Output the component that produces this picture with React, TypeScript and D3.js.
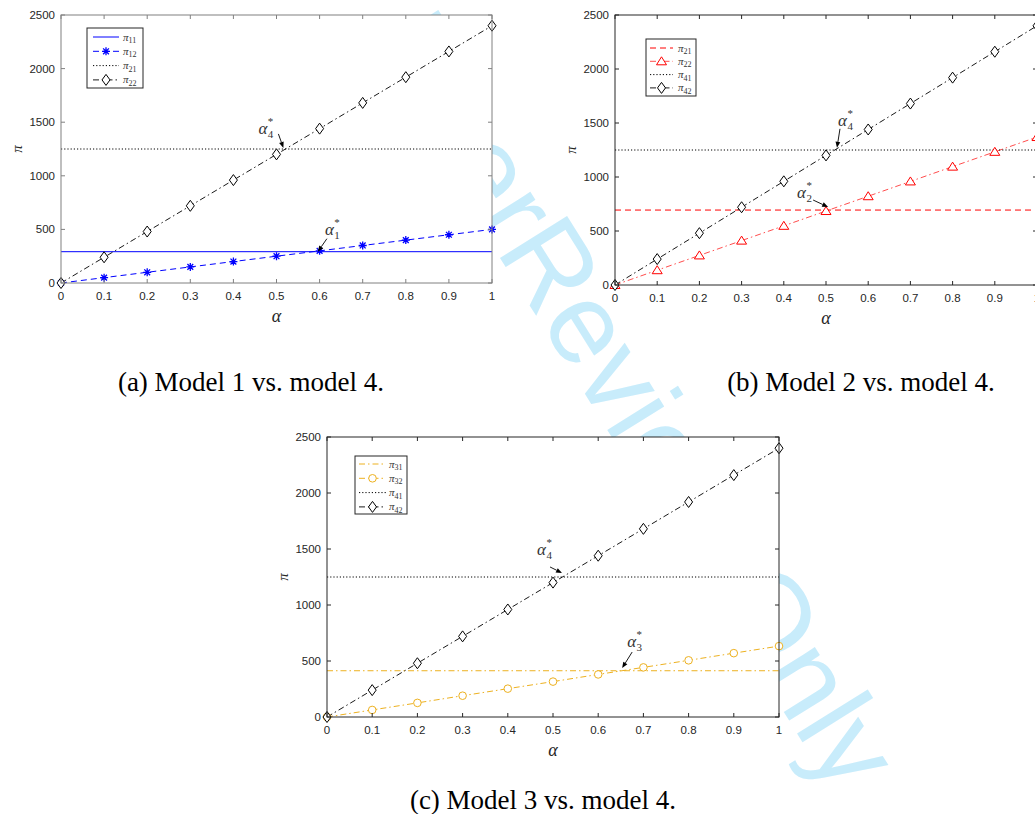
import React, { useEffect, useRef } from 'react';
import * as d3 from 'd3';

// shared axes
const alphaTicks = [0, 0.1, 0.2, 0.3, 0.4, 0.5, 0.6, 0.7, 0.8, 0.9, 1];
const alphaTickLabels = ['0', '0.1', '0.2', '0.3', '0.4', '0.5', '0.6', '0.7', '0.8', '0.9', '1'];
const piTicks = [0, 500, 1000, 1500, 2000, 2500];
const alphaEnds = [0, 1];

// (a) model 1 vs model 4
const pi11 = [292, 292];
const pi12 = [0, 50, 100, 150, 200, 250, 300, 350, 400, 450, 500];
const pi21a = [1250, 1250];
const pi22a = [0, 240, 480, 720, 960, 1200, 1440, 1680, 1920, 2160, 2400];

// (b) model 2 vs model 4
const pi21b = [694, 694];
const pi22b = [0, 137, 274, 411, 548, 685, 822, 959, 1096, 1233, 1370];
const pi41b = [1250, 1250];
const pi42b = [0, 240, 480, 720, 960, 1200, 1440, 1680, 1920, 2160, 2400];

// (c) model 3 vs model 4
const pi31 = [413, 413];
const pi32 = [0, 63, 126, 190, 253, 316, 380, 443, 506, 570, 633];
const pi41c = [1250, 1250];
const pi42c = [0, 240, 480, 720, 960, 1200, 1440, 1680, 1920, 2160, 2400];

type Marker = 'none' | 'diamond' | 'star' | 'triangle' | 'circle';

interface Series {
  sub: string;
  xs: number[];
  ys: number[];
  color: string;
  dash: string | null;
  width: number;
  marker: Marker;
}

interface Note {
  sub: string;
  tip: [number, number]; // data coords
  tail: [number, number]; // px offset from tip
  label: [number, number]; // px offset from tip
}

interface Panel {
  left: number;
  top: number;
  width: number;
  height: number;
  axisColor: string;
  series: Series[];
  legend: { x: number; y: number; w: number; h: number; rowGap: number; first: number; l0: number; l1: number; tx: number };
  notes: Note[];
  caption: string;
  captionX: number;
  captionY: number;
}

const BLUE = '#0000ff';
const RED = '#ff0000';
const ORANGE = '#edb120';
const DASH = '6,4';
const DOT = '1.2,2';
const DASHDOT = '6,3,1.5,3';

const panels: Panel[] = [
  {
    left: 61, top: 15, width: 431, height: 268, axisColor: '#808080',
    series: [
      { sub: '11', xs: alphaEnds, ys: pi11, color: BLUE, dash: null, width: 1, marker: 'none' },
      { sub: '12', xs: alphaTicks, ys: pi12, color: BLUE, dash: DASH, width: 1, marker: 'star' },
      { sub: '21', xs: alphaEnds, ys: pi21a, color: '#000', dash: DOT, width: 1, marker: 'none' },
      { sub: '22', xs: alphaTicks, ys: pi22a, color: '#000', dash: DASHDOT, width: 0.9, marker: 'diamond' },
    ],
    legend: { x: 87, y: 28, w: 56, h: 60, rowGap: 14.3, first: 9, l0: 6, l1: 32, tx: 36 },
    notes: [
      { sub: '4', tip: [0.516, 1260], tail: [-5, -14], label: [-25, -14] },
      { sub: '1', tip: [0.596, 292], tail: [9, -13], label: [7, -17] },
    ],
    caption: '(a) Model 1 vs. model 4.', captionX: 251, captionY: 391,
  },
  {
    left: 615, top: 15, width: 422, height: 270, axisColor: '#262626',
    series: [
      { sub: '21', xs: alphaEnds, ys: pi21b, color: RED, dash: DASH, width: 1, marker: 'none' },
      { sub: '22', xs: alphaTicks, ys: pi22b, color: RED, dash: DASHDOT, width: 0.7, marker: 'triangle' },
      { sub: '41', xs: alphaEnds, ys: pi41b, color: '#000', dash: DOT, width: 1, marker: 'none' },
      { sub: '42', xs: alphaTicks, ys: pi42b, color: '#000', dash: DASHDOT, width: 0.9, marker: 'diamond' },
    ],
    legend: { x: 646, y: 39, w: 50, h: 57, rowGap: 13.3, first: 9, l0: 4, l1: 27, tx: 32 },
    notes: [
      { sub: '4', tip: [0.526, 1270], tail: [3, -19], label: [1, -22] },
      { sub: '2', tip: [0.505, 722], tail: [-15, -7], label: [-31, -9] },
    ],
    caption: '(b) Model 2 vs. model 4.', captionX: 861, captionY: 391,
  },
  {
    left: 327, top: 437, width: 452, height: 280, axisColor: '#262626',
    series: [
      { sub: '31', xs: alphaEnds, ys: pi31, color: ORANGE, dash: DASHDOT, width: 1, marker: 'none' },
      { sub: '32', xs: alphaTicks, ys: pi32, color: ORANGE, dash: DASHDOT, width: 1, marker: 'circle' },
      { sub: '41', xs: alphaEnds, ys: pi41c, color: '#000', dash: DOT, width: 1, marker: 'none' },
      { sub: '42', xs: alphaTicks, ys: pi42c, color: '#000', dash: DASHDOT, width: 0.9, marker: 'diamond' },
    ],
    legend: { x: 355, y: 456, w: 52, h: 58, rowGap: 14.3, first: 8, l0: 4, l1: 31, tx: 34 },
    notes: [
      { sub: '4', tip: [0.52, 1286], tail: [-12, -6], label: [-25, -18] },
      { sub: '3', tip: [0.653, 437], tail: [10, -16], label: [5, -21] },
    ],
    caption: '(c) Model 3 vs. model 4.', captionX: 543, captionY: 809,
  },
];

const SANS = '"Liberation Sans", Arial, sans-serif';
const SERIF = '"Liberation Serif", "Times New Roman", serif';

function drawMarker(g: d3.Selection<SVGGElement, unknown, null, undefined>, type: Marker, x: number, y: number, color: string) {
  if (type === 'diamond') {
    g.append('path').attr('d', `M${x},${y - 5.5}L${x + 4},${y}L${x},${y + 5.5}L${x - 4},${y}Z`)
      .attr('fill', '#fff').attr('stroke', color).attr('stroke-width', 1);
  } else if (type === 'triangle') {
    g.append('path').attr('d', `M${x},${y - 4.5}L${x + 5},${y + 3.5}L${x - 5},${y + 3.5}Z`)
      .attr('fill', '#fff').attr('stroke', color).attr('stroke-width', 1);
  } else if (type === 'circle') {
    g.append('circle').attr('cx', x).attr('cy', y).attr('r', 3.8)
      .attr('fill', '#fff').attr('stroke', color).attr('stroke-width', 1);
  } else if (type === 'star') {
    const r = 4;
    const d = 2.9;
    g.append('path')
      .attr('d', `M${x - r},${y}L${x + r},${y}M${x},${y - r}L${x},${y + r}M${x - d},${y - d}L${x + d},${y + d}M${x - d},${y + d}L${x + d},${y - d}`)
      .attr('stroke', color).attr('stroke-width', 1.3).attr('fill', 'none');
  }
}

function piLabel(g: d3.Selection<SVGGElement, unknown, null, undefined>, x: number, y: number, sub: string) {
  const t = g.append('text').attr('x', x).attr('y', y + 3.5)
    .style('font-family', SERIF).style('font-style', 'italic').style('font-size', '11px').attr('fill', '#333');
  t.append('tspan').text('π');
  t.append('tspan').attr('dy', 2.5).style('font-size', '8px').style('font-style', 'normal').text(sub);
}

const App: React.FC = () => {
  const svgRef = useRef<SVGSVGElement>(null);

  useEffect(() => {
    if (!svgRef.current) return;
    const svg = d3.select(svgRef.current);
    svg.selectAll('*').remove();

    svg.append('rect').attr('width', 1035).attr('height', 814).attr('fill', '#fff');

    // watermark, sits under the plot boxes
    const wm = svg.append('g').attr('transform', 'translate(495,250) rotate(58)');
    wm.append('text').attr('x', 0).attr('y', 0).attr('text-anchor', 'end')
      .style('font-family', SANS).style('font-size', '115px').attr('fill', '#c8ecfb').text('For Peer ');
    wm.append('text').attr('x', 0).attr('y', 0)
      .style('font-family', SANS).style('font-size', '115px').attr('fill', '#c8ecfb').text('Review Only');

    panels.forEach(p => {
      const x = d3.scaleLinear().domain([0, 1]).range([p.left, p.left + p.width]);
      const y = d3.scaleLinear().domain([0, 2500]).range([p.top + p.height, p.top]);
      const g = svg.append('g');
      const bottom = p.top + p.height;
      const right = p.left + p.width;

      g.append('rect').attr('x', p.left).attr('y', p.top).attr('width', p.width).attr('height', p.height)
        .attr('fill', '#fff');

      // series
      p.series.forEach(s => {
        const line = d3.line<number>().x((_, i) => x(s.xs[i])).y(v => y(v));
        g.append('path').attr('d', line(s.ys) || '')
          .attr('fill', 'none').attr('stroke', s.color).attr('stroke-width', s.width)
          .attr('stroke-dasharray', s.dash || null);
      });
      p.series.forEach(s => {
        if (s.marker === 'none') return;
        s.ys.forEach((v, i) => drawMarker(g, s.marker, x(s.xs[i]), y(v), s.color));
      });

      // box + ticks
      g.append('rect').attr('x', p.left).attr('y', p.top).attr('width', p.width).attr('height', p.height)
        .attr('fill', 'none').attr('stroke', p.axisColor).attr('stroke-width', 1);
      alphaTicks.forEach((t, i) => {
        const tx = x(t);
        g.append('line').attr('x1', tx).attr('x2', tx).attr('y1', bottom).attr('y2', bottom - 4).attr('stroke', p.axisColor);
        g.append('line').attr('x1', tx).attr('x2', tx).attr('y1', p.top).attr('y2', p.top + 4).attr('stroke', p.axisColor);
        g.append('text').attr('x', tx).attr('y', bottom + 17).attr('text-anchor', 'middle')
          .style('font-family', SANS).style('font-size', '11.5px').attr('fill', '#262626').text(alphaTickLabels[i]);
      });
      piTicks.forEach(t => {
        const ty = y(t);
        g.append('line').attr('x1', p.left).attr('x2', p.left + 4).attr('y1', ty).attr('y2', ty).attr('stroke', p.axisColor);
        g.append('line').attr('x1', right).attr('x2', right - 4).attr('y1', ty).attr('y2', ty).attr('stroke', p.axisColor);
        g.append('text').attr('x', p.left - 6).attr('y', ty + 4).attr('text-anchor', 'end')
          .style('font-family', SANS).style('font-size', '11.5px').attr('fill', '#262626').text(String(t));
      });

      // axis labels
      g.append('text').attr('x', p.left + p.width / 2).attr('y', bottom + 39).attr('text-anchor', 'middle')
        .style('font-family', SERIF).style('font-style', 'italic').style('font-size', '18px').attr('fill', '#262626').text('α');
      g.append('text').attr('transform', `translate(${p.left - 39},${p.top + p.height / 2}) rotate(-90)`)
        .attr('text-anchor', 'middle')
        .style('font-family', SERIF).style('font-style', 'italic').style('font-size', '15px').attr('fill', '#262626').text('π');

      // legend
      const L = p.legend;
      g.append('rect').attr('x', L.x).attr('y', L.y).attr('width', L.w).attr('height', L.h)
        .attr('fill', '#fff').attr('stroke', '#262626').attr('stroke-width', 1);
      p.series.forEach((s, i) => {
        const ry = L.y + L.first + i * L.rowGap;
        g.append('line').attr('x1', L.x + L.l0).attr('x2', L.x + L.l1).attr('y1', ry).attr('y2', ry)
          .attr('stroke', s.color).attr('stroke-width', s.width).attr('stroke-dasharray', s.dash || null);
        if (s.marker !== 'none') drawMarker(g, s.marker, L.x + (L.l0 + L.l1) / 2, ry, s.color);
        piLabel(g, L.x + L.tx, ry, s.sub);
      });

      // alpha* annotations
      p.notes.forEach(n => {
        const tx = x(n.tip[0]);
        const ty = y(n.tip[1]);
        const sx = tx + n.tail[0];
        const sy = ty + n.tail[1];
        const ang = Math.atan2(ty - sy, tx - sx);
        const hl = 6;
        const hw = 2.4;
        const bx = tx - hl * Math.cos(ang);
        const by = ty - hl * Math.sin(ang);
        g.append('line').attr('x1', sx).attr('y1', sy).attr('x2', bx).attr('y2', by).attr('stroke', '#000').attr('stroke-width', 0.9);
        g.append('path')
          .attr('d', `M${tx},${ty}L${bx + hw * Math.sin(ang)},${by - hw * Math.cos(ang)}L${bx - hw * Math.sin(ang)},${by + hw * Math.cos(ang)}Z`)
          .attr('fill', '#000');
        const t = g.append('text').attr('x', tx + n.label[0]).attr('y', ty + n.label[1])
          .style('font-family', SERIF).attr('fill', '#333');
        t.append('tspan').style('font-style', 'italic').style('font-size', '17px').text('α');
        t.append('tspan').attr('dx', 0.5).attr('dy', -9).style('font-size', '11px').text('*');
        t.append('tspan').attr('dx', -5.5).attr('dy', 13).style('font-size', '11px').text(n.sub);
      });

      // caption
      svg.append('text').attr('x', p.captionX).attr('y', p.captionY).attr('text-anchor', 'middle')
        .style('font-family', SERIF).style('font-size', '27px').attr('fill', '#000').text(p.caption);
    });
  }, []);

  return (
    <svg ref={svgRef} width={1035} height={814} style={{ position: 'absolute', left: 0, top: 0 }} />
  );
};

export default App;
